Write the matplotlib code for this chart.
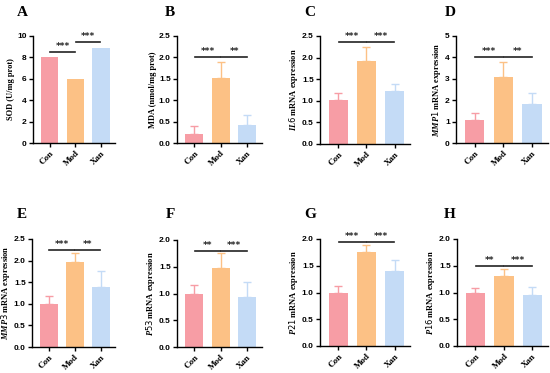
import numpy as np
import matplotlib as mpl
mpl.use('Agg')
import matplotlib.pyplot as plt

mpl.rcParams['mathtext.fontset'] = 'custom'
mpl.rcParams['mathtext.it'] = 'Liberation Serif:italic:bold'
mpl.rcParams['mathtext.bf'] = 'Liberation Serif:bold'

groups = ['Con', 'Mod', 'Xan']
colors = ['#F79DA5', '#FCC185', '#C4DBF6']

# panel data: means, upper error (sd)
letters = ['A', 'B', 'C', 'D', 'E', 'F', 'G', 'H']
ylabels = ['SOD (U/mg prot)', 'MDA (nmol/mg prot)', 'IL6', 'MMP1', 'MMP3', 'P53', 'P21', 'P16']
means = [[8.0, 6.0, 8.9],
         [0.22, 1.52, 0.42],
         [1.01, 1.92, 1.22],
         [1.08, 3.10, 1.82],
         [1.00, 1.97, 1.38],
         [1.00, 1.48, 0.93],
         [1.00, 1.76, 1.40],
         [1.00, 1.30, 0.96]]
errs = [[0.0, 0.0, 0.0],
        [0.18, 0.38, 0.23],
        [0.16, 0.33, 0.16],
        [0.32, 0.70, 0.53],
        [0.18, 0.21, 0.39],
        [0.15, 0.27, 0.29],
        [0.12, 0.12, 0.20],
        [0.08, 0.13, 0.15]]
ymax = [10, 2.5, 2.5, 5, 2.5, 2.0, 2.0, 2.0]
ystep = [2, 0.5, 0.5, 1, 0.5, 0.5, 0.5, 0.5]
sig_y = [[8.5, 9.4], [2.0, 2.0], [2.35, 2.35], [4.0, 4.0],
         [2.25, 2.25], [1.8, 1.8], [1.95, 1.95], [1.5, 1.5]]
sig_txt = [['***', '***'], ['***', '**'], ['***', '***'], ['***', '**'],
           ['***', '**'], ['**', '***'], ['***', '***'], ['**', '***']]

# axes boxes in pixels: left, right, top, bottom
boxes = [(33, 115, 36, 143), (177, 262, 36, 143), (320, 410, 36, 144), (456, 548, 36, 143),
         (32, 115, 239, 347), (177, 262, 240, 347), (320, 410, 239, 346), (457, 548, 239, 346)]
letter_pos = [(22, 12), (170, 12), (310, 12), (450, 12),
              (22, 214), (170, 214), (310, 214), (450, 214)]

W, H = 550, 373
fig = plt.figure(figsize=(5.5, 3.73), dpi=100)
x = np.arange(3)

for i in range(8):
    l, r, t, b = boxes[i]
    ax = fig.add_axes([l / W, 1 - b / H, (r - l) / W, (b - t) / H])
    ax.bar(x, means[i], width=0.68, color=colors, zorder=2)
    for j in range(3):
        if errs[i][j] > 0:
            ax.errorbar(x[j], means[i][j], yerr=[[0], [errs[i][j]]], color=colors[j],
                        elinewidth=1.0, capsize=3, capthick=1.0, zorder=1)
    ax.set_ylim(0, ymax[i])
    ax.set_xlim(-0.65, 2.55)
    ticks = np.arange(0, ymax[i] + 1e-9, ystep[i])
    ax.set_yticks(ticks)
    if ystep[i] < 1:
        ax.set_yticklabels(['%.1f' % v for v in ticks])
    for lab in ax.get_yticklabels():
        lab.set_fontfamily('Liberation Sans')
        lab.set_fontweight('bold')
        lab.set_fontsize(6)
    ax.set_xticks(x)
    ax.set_xticklabels(groups, rotation=45, ha='right', rotation_mode='anchor',
                       fontfamily='Liberation Serif', fontweight='bold', fontsize=6.5)
    ax.tick_params(length=3, width=1.0, pad=1.5)
    for s in ['top', 'right']:
        ax.spines[s].set_visible(False)
    for s in ['left', 'bottom']:
        ax.spines[s].set_linewidth(1.0)
    if i < 2:
        ax.set_ylabel(ylabels[i], fontfamily='Liberation Serif', fontweight='bold', fontsize=6, labelpad=1.5)
    else:
        ax.set_ylabel(r'$\mathbf{\mathit{' + ylabels[i] + r'}}$' + ' mRNA expression',
                      fontfamily='Liberation Serif', fontweight='bold', fontsize=6, labelpad=1.5)
    # significance lines
    for k in range(2):
        x0, x1 = k + 0.02, k + 0.98
        ax.plot([x0, x1], [sig_y[i][k]] * 2, color='#222222', lw=1.2, clip_on=False)
        ax.text((x0 + x1) / 2, sig_y[i][k] + ymax[i] * 0.01, sig_txt[i][k], ha='center', va='bottom',
                fontsize=6.5, fontweight='bold', color='#222222')
    fig.text(letter_pos[i][0] / W, 1 - letter_pos[i][1] / H, letters[i], fontfamily='Liberation Serif',
             fontweight='bold', fontsize=11, ha='center', va='center')

fig.savefig('out.png', dpi=100)
